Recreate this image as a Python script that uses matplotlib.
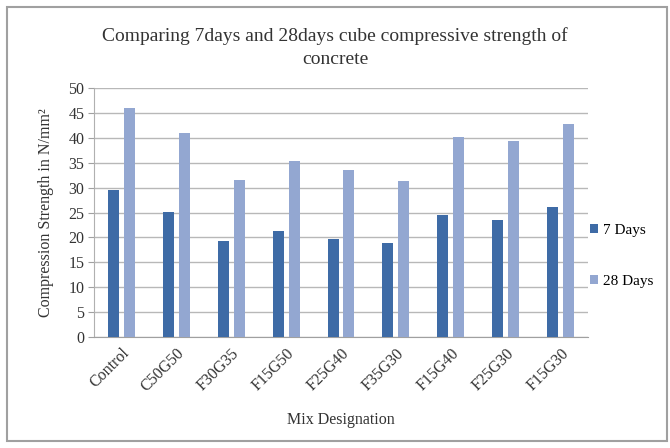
import matplotlib
matplotlib.use("Agg")
import matplotlib.pyplot as plt
import numpy as np
from matplotlib.patches import Rectangle

categories = ["Control", "C50G50", "F30G35", "F15G50", "F25G40", "F35G30", "F15G40", "F25G30", "F15G30"]
days7 = [29.5, 25.1, 19.2, 21.3, 19.7, 18.8, 24.4, 23.4, 26.1]
days28 = [45.9, 40.9, 31.6, 35.3, 33.6, 31.4, 40.1, 39.3, 42.7]
yticks = list(range(0, 55, 5))

plt.rcParams['font.family'] = ['Liberation Serif', 'DejaVu Serif']

fig = plt.figure(figsize=(6.7, 4.48), dpi=100)
fig.patches.append(Rectangle((0.010, 0.015), 0.985, 0.97, transform=fig.transFigure,
                             fill=False, edgecolor='#a0a0a0', linewidth=1.5))
ax = fig.add_axes([94/670, 1 - 337/448, (588 - 94)/670, (337 - 88)/448])

x = np.arange(len(categories))
w = 0.2
ax.bar(x - 0.145, days7, width=w, color='#3E6BA6', label='7 Days', zorder=3)
ax.bar(x + 0.145, days28, width=w, color='#93A7D1', label='28 Days', zorder=3)

ax.set_xlim(-0.5, len(categories) - 0.5)
ax.set_ylim(0, 50)
ax.set_yticks(yticks)
ax.set_yticklabels([str(t) for t in yticks], fontsize=11.5, color='#333333')
ax.set_xticks(x)
ax.set_xticklabels(categories, rotation=45, ha='right', rotation_mode='anchor', fontsize=11.5, color='#333333')
ax.tick_params(axis='x', length=0, pad=6)
ax.tick_params(axis='y', length=4, color='#a0a0a0', direction='out', pad=3)
ax.yaxis.grid(True, color='#b8b8b8', linewidth=1.0, zorder=0)
ax.set_axisbelow(True)
for s in ['top', 'right']:
    ax.spines[s].set_visible(False)
ax.spines['left'].set_color('#b0b0b0')
ax.spines['bottom'].set_color('#a0a0a0')

ax.set_ylabel('Compression Strength in N/mm²', fontsize=11.5, color='#333333', labelpad=10)
ax.set_xlabel('Mix Designation', fontsize=11.5, color='#333333', labelpad=12)
fig.text(0.5, 0.893, 'Comparing 7days and 28days cube compressive strength of\nconcrete',
         ha='center', va='center', fontsize=14, color='#333333', linespacing=1.45)

leg = ax.legend(loc='center left', bbox_to_anchor=(1.005, 0.325), frameon=False, fontsize=11,
                borderaxespad=0.0, borderpad=0.0,
                handlelength=0.5, handleheight=0.5, handletextpad=0.3, labelspacing=2.5)

fig.savefig('out.png', dpi=100)
